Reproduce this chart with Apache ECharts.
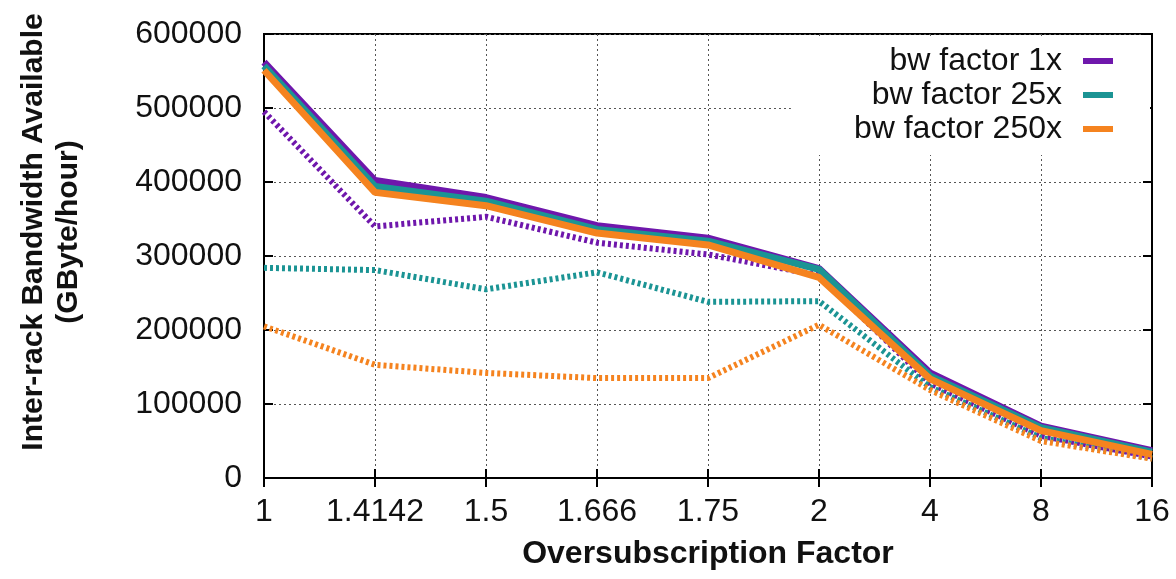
<!DOCTYPE html>
<html><head><meta charset="utf-8">
<script src="https://cdn.jsdelivr.net/npm/echarts@6/dist/echarts.min.js"></script>
<style>html,body{margin:0;padding:0;background:#fff}#c{width:1176px;height:579px}</style>
</head><body><div id="c"></div>
<script>
const categories = ['1','1.4142','1.5','1.666','1.75','2','4','8','16'];
const yTicks = [0,100000,200000,300000,400000,500000,600000];
const seriesNames = ['bw factor 1x','bw factor 25x','bw factor 250x'];
const solid1x   = [562000, 402000, 379000, 341000, 324000, 283000, 142000, 70000, 37000];
const solid25x  = [557000, 394000, 374000, 336000, 320000, 282000, 138000, 68000, 35000];
const solid250x = [551000, 386000, 368000, 331000, 315000, 271000, 134000, 64000, 32000];
const dotted1x   = [495000, 340000, 353000, 318000, 302000, 274000, 128000, 57000, 29000];
const dotted25x  = [284000, 281000, 255000, 278000, 238000, 239000, 123000, 54000, 27000];
const dotted250x = [205000, 153000, 142000, 135000, 135000, 207000, 119000, 50000, 26000];

const colors = ['#6f17ac', '#1b9494', '#f5831f'];
const font = '"Liberation Sans", Arial, Helvetica, sans-serif';

const chart = echarts.init(document.getElementById('c'), null, {renderer:'canvas'});
const gridLine = {show:true, lineStyle:{color:'#555', width:1, type:[2,3]}};
const dotted = [dotted1x, dotted25x, dotted250x];
const solid = [solid1x, solid25x, solid250x];
const series = [];
dotted.forEach((d,i)=>series.push({
  name: seriesNames[i] + ' ', type:'line', data:d, showSymbol:false, symbol:'none',
  lineStyle:{color:colors[i], width:6, type:[3,3]}, itemStyle:{color:colors[i]}, z:2, animation:false
}));
solid.forEach((d,i)=>series.push({
  name: seriesNames[i], type:'line', data:d, showSymbol:false, symbol:'none',
  lineStyle:{color:colors[i], width:7}, itemStyle:{color:colors[i]}, z:3, animation:false
}));

chart.setOption({
  animation:false,
  backgroundColor:'#fff',
  textStyle:{fontFamily:font},
  grid:{left:264, right:24, top:34, bottom:101, outerBoundsMode:'none', containLabel:false,
        show:true, borderColor:'#000', borderWidth:2, backgroundColor:'transparent'},
  legend:{
    data: seriesNames, orient:'vertical', align:'right', right:26, top:36,
    padding:[9,37,10,63], backgroundColor:'#fff', itemGap:2,
    icon:'rect', itemWidth:30, itemHeight:6,
    textStyle:{fontSize:32, color:'#111', fontFamily:font, lineHeight:32, padding:[0,16,0,0]},
    selectedMode:false, z:10
  },
  xAxis:[{
    type:'category', data:categories, boundaryGap:false,
    name:'Oversubscription Factor', nameLocation:'middle', nameGap:60,
    nameTextStyle:{fontSize:32, fontWeight:'bold', color:'#111', fontFamily:font},
    axisLine:{show:true, lineStyle:{color:'#000', width:2}},
    axisTick:{show:true, inside:true, length:9, alignWithLabel:true, interval:0, lineStyle:{color:'#000', width:2}},
    axisLabel:{fontSize:32, color:'#111', margin:18, interval:0, fontFamily:font},
    splitLine:Object.assign({interval:0}, gridLine)
  },{
    type:'category', data:categories, boundaryGap:false, position:'top',
    axisLine:{show:true, lineStyle:{color:'#000', width:2}},
    axisTick:{show:true, inside:true, length:9, interval:0, lineStyle:{color:'#000', width:2}},
    axisLabel:{show:false}, splitLine:{show:false}
  }],
  yAxis:[{
    type:'value', min:yTicks[0], max:yTicks[yTicks.length-1], interval:100000,
    name:'Inter-rack Bandwidth Available\n(GByte/hour)', nameLocation:'middle', nameGap:178, nameRotate:90,
    nameTextStyle:{fontSize:30, fontWeight:'bold', color:'#111', lineHeight:35, fontFamily:font, padding:[0,0,0,48]},
    axisLine:{show:true, lineStyle:{color:'#000', width:2}},
    axisTick:{show:true, inside:true, length:9, lineStyle:{color:'#000', width:2}},
    axisLabel:{fontSize:32, color:'#111', margin:22, fontFamily:font, formatter:(v)=>String(v)},
    splitLine:gridLine
  },{
    type:'value', min:yTicks[0], max:yTicks[yTicks.length-1], interval:100000, position:'right',
    axisLine:{show:true, lineStyle:{color:'#000', width:2}},
    axisTick:{show:true, inside:true, length:9, lineStyle:{color:'#000', width:2}},
    axisLabel:{show:false}, splitLine:{show:false}
  }],
  series: series
});
</script></body></html>
